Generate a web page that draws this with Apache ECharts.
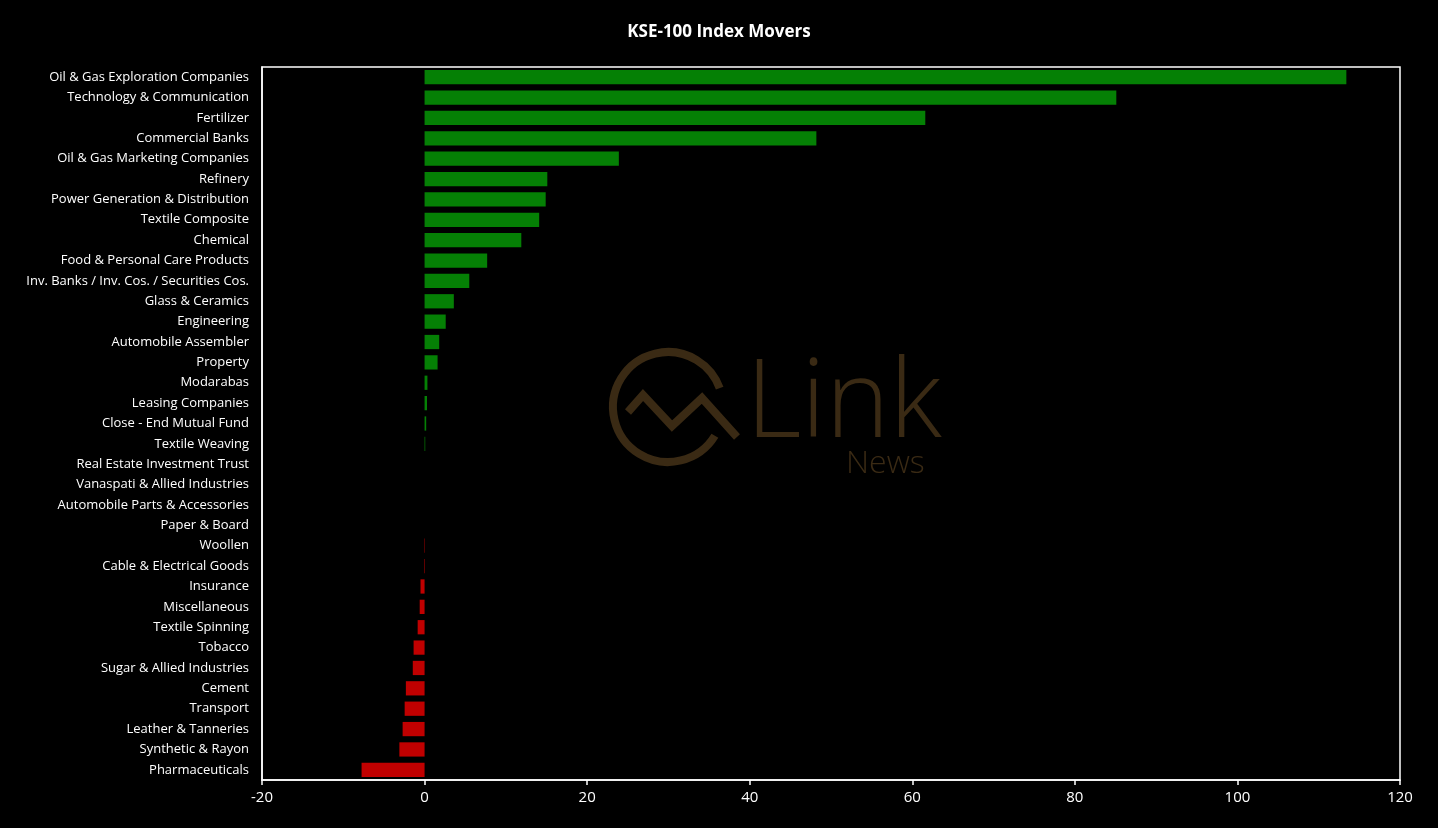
<!DOCTYPE html>
<html><head><meta charset="utf-8">
<script src="https://cdn.jsdelivr.net/npm/echarts@6/dist/echarts.min.js"></script>
<style>html,body{margin:0;padding:0;background:#000;}#c{width:1438px;height:828px;}</style>
</head><body><div id="c"></div>
<script>
const categories = ["Oil & Gas Exploration Companies","Technology & Communication","Fertilizer","Commercial Banks","Oil & Gas Marketing Companies","Refinery","Power Generation & Distribution","Textile Composite","Chemical","Food & Personal Care Products","Inv. Banks / Inv. Cos. / Securities Cos.","Glass & Ceramics","Engineering","Automobile Assembler","Property","Modarabas","Leasing Companies","Close - End Mutual Fund","Textile Weaving","Real Estate Investment Trust","Vanaspati & Allied Industries","Automobile Parts & Accessories","Paper & Board","Woollen","Cable & Electrical Goods","Insurance","Miscellaneous","Textile Spinning","Tobacco","Sugar & Allied Industries","Cement","Transport","Leather & Tanneries","Synthetic & Rayon","Pharmaceuticals"];
const values = [113.4,85.1,61.6,48.2,23.9,15.1,14.9,14.1,11.9,7.7,5.5,3.6,2.6,1.8,1.6,0.35,0.3,0.2,0.08,0,0,0,0,-0.05,-0.06,-0.5,-0.6,-0.85,-1.35,-1.45,-2.3,-2.45,-2.7,-3.1,-7.75];
const xTicks = [-20,0,20,40,60,80,100,120];

const chart = echarts.init(document.getElementById('c'));
const font = "'Open Sans', 'Noto Sans', sans-serif";
chart.setOption({
  backgroundColor:'#000',
  animation:false,
  title:{text:'KSE-100 Index Movers',left:'center',top:19,textStyle:{color:'#fff',fontSize:17,fontWeight:'bold',fontFamily:font}},
  grid:{left:262,right:38,top:67,bottom:48,show:true,borderColor:'#fff',borderWidth:1.5,backgroundColor:'transparent'},
  graphic:[
    {type:'arc',shape:{cx:668,cy:407,r:55,startAngle:0.55,endAngle:-0.35,clockwise:true},style:{stroke:'#3a2a14',lineWidth:8,fill:null},z:0},
    {type:'polyline',shape:{points:[[628,412],[643,395],[672,426],[702,398],[737,437]]},style:{stroke:'#3a2a14',lineWidth:8,fill:null},z:0},
    {type:'text',style:{text:'Link',x:746,y:460,textVerticalAlign:'bottom',font:"200 108px 'Open Sans', sans-serif",fill:'#3a2a14'},z:0},
    {type:'text',style:{text:'News',x:846,y:480,textVerticalAlign:'bottom',font:"200 32px 'Open Sans', sans-serif",fill:'#3a2a14'},z:0}
  ],
  xAxis:{type:'value',min:xTicks[0],max:xTicks[xTicks.length-1],interval:20,
    axisLine:{show:true,lineStyle:{color:'#fff',width:1.5}},
    axisTick:{show:true,inside:false,length:5,lineStyle:{color:'#fff',width:1.5}},
    axisLabel:{color:'#fff',fontSize:15,fontFamily:font,margin:10},
    splitLine:{show:false}},
  yAxis:{type:'category',data:categories,inverse:true,
    axisLine:{show:true,onZero:false,lineStyle:{color:'#fff',width:1.5}},
    axisTick:{show:false},
    axisLabel:{color:'#fff',fontSize:13,fontFamily:font,margin:13,interval:0}},
  series:[{type:'bar',data:values.map(v=>({value:v,itemStyle:{color:v>=0?'#058005':'#c00000'}})),barCategoryGap:'30%'}]
});
</script></body></html>
